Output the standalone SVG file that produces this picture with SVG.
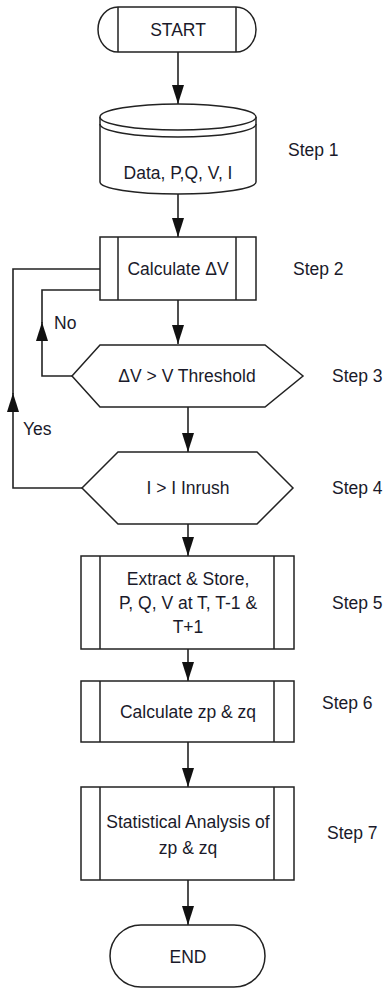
<svg xmlns="http://www.w3.org/2000/svg" width="384" height="989" viewBox="0 0 384 989">
<style>
.s{fill:#fff;stroke:#222;stroke-width:1.5}
.l{fill:none;stroke:#222;stroke-width:1.5}
.c{fill:none;stroke:#222;stroke-width:1.6}
text{font-family:"Liberation Sans",Arial,sans-serif;font-size:17.5px;fill:#1a1a2a;text-anchor:middle;dominant-baseline:central}
.st{text-anchor:start}
</style>
<defs>
<marker id="ah" markerUnits="userSpaceOnUse" markerWidth="19" markerHeight="12" refX="19" refY="6" viewBox="0 0 19 12" orient="auto">
<path d="M0,0 L19,6 L0,12 Z" fill="#111"/>
</marker>
</defs>
<rect width="384" height="989" fill="#fff"/>
<g id="connectors">
<path class="c" d="M178,52 V104" marker-end="url(#ah)"/>
<path class="c" d="M178,194 V237" marker-end="url(#ah)"/>
<path class="c" d="M178,300 V344" marker-end="url(#ah)"/>
<path class="c" d="M188,407 V452" marker-end="url(#ah)"/>
<path class="c" d="M188,524 V556" marker-end="url(#ah)"/>
<path class="c" d="M188,649 V681" marker-end="url(#ah)"/>
<path class="c" d="M188,742 V787" marker-end="url(#ah)"/>
<path class="c" d="M188,880 V925" marker-end="url(#ah)"/>
<path class="c" d="M72,376 H42 V322" marker-end="url(#ah)"/>
<path class="c" d="M42,323 V290 H100"/>
<path class="c" d="M82,488 H13 V393" marker-end="url(#ah)"/>
<path class="c" d="M13,394 V269 H100"/>
<text class="st" x="54" y="323">No</text>
<text class="st" x="23" y="429">Yes</text>
</g>
<g id="start">
<path class="s" d="M118,7 H236 A20,22.5 0 0 1 236,52 H118 A20,22.5 0 0 1 118,7 Z"/>
<path class="l" d="M118,7 V52 M236,7 V52"/>
<text x="178" y="30">START</text>
</g>
<g id="data">
<path class="s" d="M100,117 V182 A78,12 0 0 0 256,182 V117"/>
<ellipse class="s" cx="178" cy="117" rx="78" ry="13"/>
<path class="l" d="M100,124 A78,13 0 0 0 256,124"/>
<text x="178" y="173">Data, P,Q, V, I</text>
<text class="st" x="288" y="150">Step 1</text>
</g>
<g id="calc-dv">
<rect class="s" x="100" y="237" width="156" height="63"/>
<path class="l" d="M118,237 V300 M236,237 V300"/>
<text x="178" y="269">Calculate ΔV</text>
<text class="st" x="293" y="269">Step 2</text>
</g>
<g id="dv-threshold">
<polygon class="s" points="72,376 100,345 265,345 303,376 265,407 100,407"/>
<text x="187" y="376">ΔV &gt; V Threshold</text>
<text class="st" x="332" y="376">Step 3</text>
</g>
<g id="inrush">
<polygon class="s" points="82,488 118,452 257,452 293,488 257,524 118,524"/>
<text x="188" y="488">I &gt; I Inrush</text>
<text class="st" x="332" y="488">Step 4</text>
</g>
<g id="extract">
<rect class="s" x="81" y="556" width="213" height="93"/>
<path class="l" d="M100,556 V649 M274,556 V649"/>
<text x="188" y="579">Extract &amp; Store,</text>
<text x="188" y="603">P, Q, V at T, T-1 &amp;</text>
<text x="188" y="627">T+1</text>
<text class="st" x="332" y="603">Step 5</text>
</g>
<g id="calc-zp">
<rect class="s" x="81" y="681" width="213" height="61"/>
<path class="l" d="M100,681 V742 M274,681 V742"/>
<text x="188" y="712">Calculate zp &amp; zq</text>
<text class="st" x="322" y="703">Step 6</text>
</g>
<g id="stat">
<rect class="s" x="81" y="787" width="213" height="93"/>
<path class="l" d="M100,787 V880 M274,787 V880"/>
<text x="188" y="822">Statistical Analysis of</text>
<text x="188" y="848">zp &amp; zq</text>
<text class="st" x="327" y="833">Step 7</text>
</g>
<g id="end">
<rect class="s" x="110" y="925" width="155" height="62" rx="31" ry="31"/>
<text x="188" y="957">END</text>
</g>
</svg>
